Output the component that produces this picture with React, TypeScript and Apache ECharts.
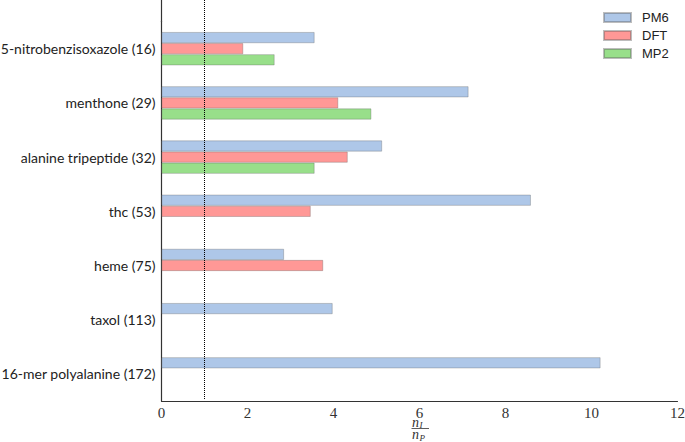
import React, { useEffect, useRef } from "react";
import * as echarts from "echarts";

const categories = [
  "5-nitrobenzisoxazole (16)",
  "menthone (29)",
  "alanine tripeptide (32)",
  "thc (53)",
  "heme (75)",
  "taxol (113)",
  "16-mer polyalanine (172)",
];
const pm6 = [3.56, 7.14, 5.13, 8.59, 2.85, 3.98, 10.21];
const dft = [1.9, 4.11, 4.33, 3.47, 3.76, null, null];
const mp2 = [2.63, 4.88, 3.56, null, null, null, null];
const xTicks = [0, 2, 4, 6, 8, 10, 12];
const refLine = 1;

export default function App() {
  const ref = useRef<HTMLDivElement>(null);
  useEffect(() => {
    if (!ref.current) return;
    const chart = echarts.init(ref.current, null, { renderer: "svg" });
    const gridLeft = 161.5;
    const gridTop = 21.6;
    const border = "rgba(90,90,90,0.4)";
    const mathFont = "Liberation Serif";
    const mathColor = "#333";
    const mathText = (text: string, x: number, y: number, size: number) => ({
      type: "text",
      x,
      y,
      style: {
        text,
        fontFamily: mathFont,
        fontStyle: "italic",
        fontSize: size,
        fill: mathColor,
        align: "left",
        verticalAlign: "middle",
      },
    });
    chart.setOption({
      animation: false,
      backgroundColor: "#ffffff",
      grid: {
        left: gridLeft,
        right: 7.5,
        top: gridTop,
        bottom: 41,
        containLabel: false,
        outerBoundsMode: "none",
      },
      legend: {
        orient: "vertical",
        left: 603,
        top: 11,
        padding: 0,
        itemWidth: 27,
        itemHeight: 9,
        itemGap: 5,
        icon: "rect",
        data: ["PM6", "DFT", "MP2"],
        textStyle: {
          fontFamily: "Liberation Sans",
          fontSize: 13,
          lineHeight: 13,
          color: "#222",
          padding: [0, 0, 0, 6],
        },
      },
      xAxis: {
        type: "value",
        min: xTicks[0],
        max: xTicks[xTicks.length - 1],
        interval: 2,
        axisLine: { show: true, lineStyle: { color: "#333", width: 1.2 } },
        axisTick: { show: false },
        splitLine: { show: false },
        axisLabel: {
          fontFamily: "Liberation Serif",
          fontSize: 15,
          color: "#333",
          margin: 4,
        },
      },
      yAxis: {
        type: "category",
        inverse: true,
        data: categories,
        axisLine: { show: true, lineStyle: { color: "#333", width: 1.2 } },
        axisTick: { show: false },
        axisLabel: {
          fontFamily: "Lato",
          fontSize: 14,
          color: "#222",
          margin: 6,
        },
      },
      series: [
        {
          name: "PM6",
          type: "bar",
          data: pm6,
          barGap: "0%",
          barCategoryGap: "38.5%",
          itemStyle: { color: "#aec7e8", borderColor: border, borderWidth: 0.8 },
          markLine: {
            silent: true,
            symbol: "none",
            label: { show: false },
            lineStyle: { color: "#000", type: "dotted", width: 1 },
            data: [[{ xAxis: refLine, y: 0 }, { xAxis: refLine, y: 400 }]],
          },
        },
        {
          name: "DFT",
          type: "bar",
          data: dft,
          barGap: "0%",
          barCategoryGap: "38.5%",
          itemStyle: { color: "#ff9896", borderColor: border, borderWidth: 0.8 },
        },
        {
          name: "MP2",
          type: "bar",
          data: mp2,
          barGap: "0%",
          barCategoryGap: "38.5%",
          itemStyle: { color: "#98df8a", borderColor: border, borderWidth: 0.8 },
        },
      ],
      graphic: [
        {
          type: "line",
          shape: { x1: gridLeft, y1: 0, x2: gridLeft, y2: gridTop },
          style: { stroke: "#333", lineWidth: 1.2 },
        },
        mathText("n", 412, 422, 14),
        mathText("I", 419.5, 425, 9),
        {
          type: "line",
          shape: { x1: 411.5, y1: 428.5, x2: 429, y2: 428.5 },
          style: { stroke: "#333", lineWidth: 0.8 },
        },
        mathText("n", 412, 434.5, 14),
        mathText("P", 419.5, 437.5, 9),
      ],
    });
    return () => chart.dispose();
  }, []);
  return (
    <div
      ref={ref}
      style={{ position: "fixed", left: 0, top: 0, width: 685, height: 442 }}
    />
  );
}
